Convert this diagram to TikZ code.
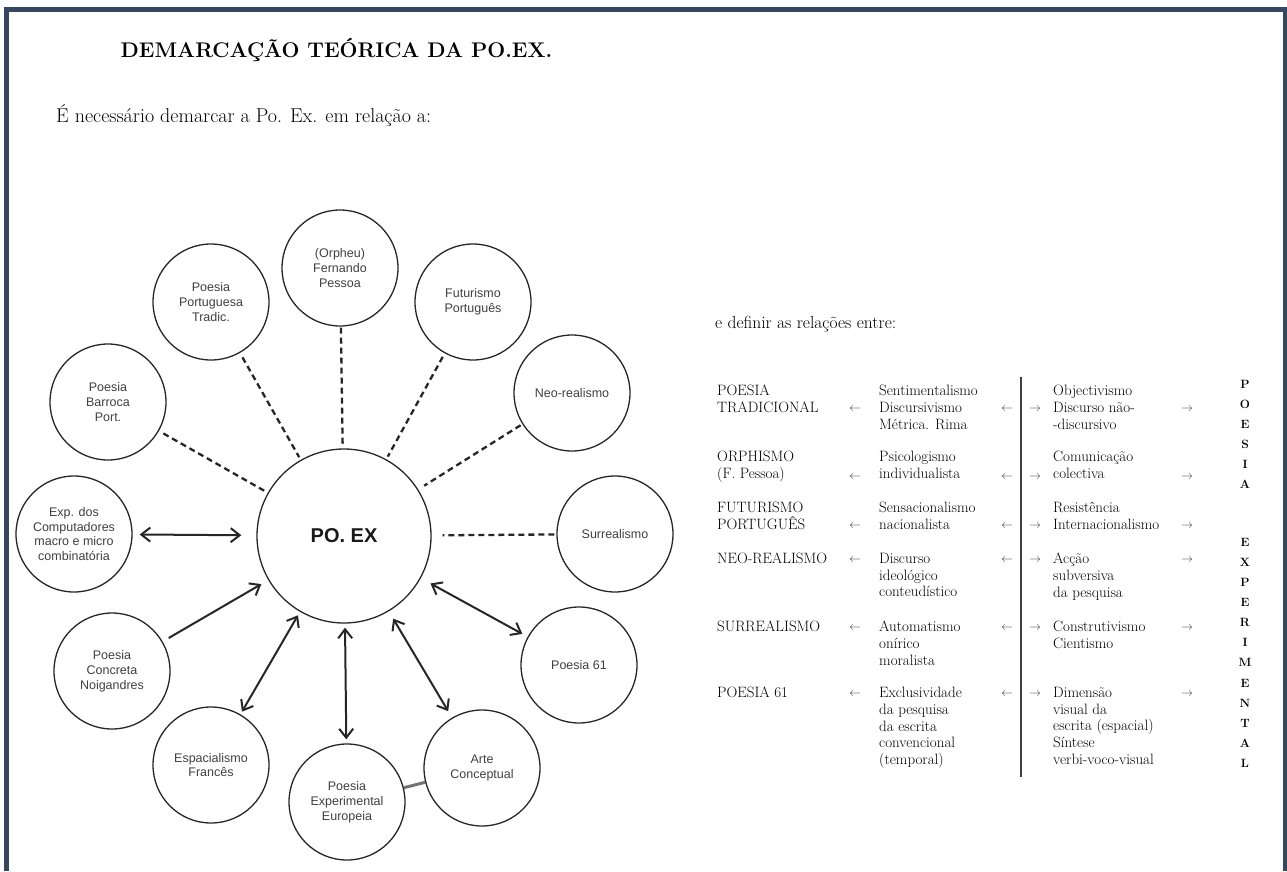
\documentclass[tikz,border=0pt]{standalone}
\usepackage{fontspec}
\newfontfamily\circfont{Liberation Sans}
\usepackage{tikz}
\usetikzlibrary{arrows.meta}
\definecolor{framecol}{RGB}{52,73,97}

\begin{document}
\begin{tikzpicture}[x=1pt, y=-1pt,
		circ/.style={circle, draw=black!85, line width=1.3pt, minimum size=116pt, inner sep=0pt, align=center, text=black!75, font=\circfont\fontsize{12.5}{14.8}\selectfont},
		hub/.style={circ, minimum size=174pt, text=black!90, font=\circfont\bfseries\fontsize{20}{24}\selectfont},
		dashlink/.style={line width=2.3pt, dash pattern=on 6pt off 4pt, black!85},
		twoway/.style={{Straight Barb[length=9pt,width=14pt]}-{Straight Barb[length=9pt,width=14pt]}, line width=2pt, black!85},
		oneway/.style={-{Straight Barb[length=9pt,width=14pt]}, line width=2pt, black!85},
		cell/.style={anchor=north west, inner sep=0pt, align=left, text=black, font=\fontsize{15}{16.7}\selectfont},
		arr/.style={inner sep=0pt, text=black!75, font=\fontsize{11.5}{14}\selectfont},
		vword/.style={anchor=north, inner sep=0pt, align=center, text=black, font=\bfseries\fontsize{12}{20.1}\selectfont}]
		\useasboundingbox (0,0) rectangle (1287,871);
		\fill[framecol] (4,7) rectangle (1287,12);
		\fill[framecol] (4,7) rectangle (9,871);
		\fill[framecol] (1283,7) rectangle (1287,871);
		
		\node[anchor=base west, inner sep=0pt, font=\bfseries\fontsize{21.2}{25}\selectfont] (title) at (120.5,57) {DEMARCAÇÃO TEÓRICA DA PO.EX.};
		\node[anchor=base west, inner sep=0pt, font=\fontsize{20}{24}\selectfont] (intro) at (56,122) {É necessário demarcar a Po. Ex. em relação a:};
		
		\node[hub] (poex) at (344,536) {PO. EX};
		\node[circ] (tradic) at (211,302) {Poesia\\Portuguesa\\Tradic.};
		\node[circ] (pessoa) at (340,268) {(Orpheu)\\Fernando\\Pessoa};
		\node[circ] (futur) at (473,302) {Futurismo\\Português};
		\node[circ] (barroca) at (108,402) {Poesia\\Barroca\\Port.};
		\node[circ] (neo) at (572,393) {Neo-realismo};
		\node[circ] (comput) at (74,534) {Exp. dos\\Computadores\\macro e micro\\combinatória};
		\node[circ] (surreal) at (615,534) {Surrealismo};
		\node[circ] (concreta) at (112,671) {Poesia\\Concreta\\Noigandres};
		\node[circ] (p61) at (579,665) {Poesia 61};
		\node[circ] (espac) at (211,765) {Espacialismo\\Francês};
		\node[circ] (europeia) at (347,802) {Poesia\\Experimental\\Europeia};
		\node[circ] (arte) at (482,768) {Arte\\Conceptual};
		
		\draw[dashlink, shorten <=5pt, shorten >=3pt] (tradic) -- (poex);
		\draw[dashlink, shorten <=1pt, shorten >=2pt] (pessoa) -- (poex);
		\draw[dashlink, shorten <=4pt, shorten >=3pt] (futur) -- (poex);
		\draw[dashlink, shorten <=5pt, shorten >=3pt] (barroca) -- (poex);
		\draw[dashlink, shorten <=2pt, shorten >=7pt] (neo) -- (poex);
		\draw[dashlink, shorten <=2pt, shorten >=11pt] (surreal) -- (poex);
		\draw[twoway, shorten <=7pt, shorten >=15pt] (comput) -- (poex);
		\draw[oneway, shorten <=7pt, shorten >=8pt] (concreta) -- (poex);
		\draw[twoway, shorten <=3pt, shorten >=4pt] (espac) -- (poex);
		\draw[twoway, shorten <=4pt, shorten >=4pt] (europeia) -- (poex);
		\draw[twoway, shorten <=7.5pt, shorten >=8.5pt] (arte) -- (poex);
		\draw[twoway, shorten <=6pt, shorten >=11pt] (p61) -- (poex);
		\draw[line width=3pt, black!55] (europeia) -- (arte);
		
		\node[anchor=base west, inner sep=0pt, font=\fontsize{17.5}{21}\selectfont] (entre) at (715,328) {e definir as relações entre:};
		
		\node[cell] (tradtxt) at (717,385) {POESIA\\TRADICIONAL};
		\node[cell] (orphtxt) at (717,451) {ORPHISMO\\(F. Pessoa)};
		\node[cell] (futtxt) at (717,502) {FUTURISMO\\PORTUGUÊS};
		\node[cell] (neotxt) at (717,553) {NEO-REALISMO};
		\node[cell] (surtxt) at (717,621) {SURREALISMO};
		\node[cell] (p61txt) at (717,687) {POESIA 61};
		
		\node[cell] (sentim) at (879,385) {Sentimentalismo\\Discursivismo\\Métrica. Rima};
		\node[cell] (psicol) at (879,451) {Psicologismo\\individualista};
		\node[cell] (sensac) at (879,502) {Sensacionalismo\\nacionalista};
		\node[cell] (ideol) at (879,553) {Discurso\\ideológico\\conteudístico};
		\node[cell] (automat) at (879,621) {Automatismo\\onírico\\moralista};
		\node[cell] (exclus) at (879,687) {Exclusividade\\da pesquisa\\da escrita\\convencional\\(temporal)};
		
		\node[cell] (objectiv) at (1053,385) {Objectivismo\\Discurso não-\\-discursivo};
		\node[cell] (comunic) at (1053,451) {Comunicação\\colectiva};
		\node[cell] (resist) at (1053,502) {Resistência\\Internacionalismo};
		\node[cell] (accao) at (1053,553) {Acção\\subversiva\\da pesquisa};
		\node[cell] (construt) at (1053,621) {Construtivismo\\Cientismo};
		\node[cell] (dimens) at (1053,687) {Dimensão\\visual da\\escrita (espacial)\\Síntese\\verbi-voco-visual};
		
		\coordinate (sepTop) at (1021,377);
		\coordinate (sepBot) at (1021,777);
		\draw[line width=1.1pt, black!75] (sepTop) -- (sepBot);
		
		\node[arr] (la1) at (855,409) {$\leftarrow$};
		\node[arr] (lb1) at (1007,409) {$\leftarrow$};
		\node[arr] (ra1) at (1035,409) {$\rightarrow$};
		\node[arr] (rb1) at (1187,409) {$\rightarrow$};
		\node[arr] (la2) at (855,477) {$\leftarrow$};
		\node[arr] (lb2) at (1007,477) {$\leftarrow$};
		\node[arr] (ra2) at (1035,477) {$\rightarrow$};
		\node[arr] (rb2) at (1187,477) {$\rightarrow$};
		\node[arr] (la3) at (855,526) {$\leftarrow$};
		\node[arr] (lb3) at (1007,526) {$\leftarrow$};
		\node[arr] (ra3) at (1035,526) {$\rightarrow$};
		\node[arr] (rb3) at (1187,526) {$\rightarrow$};
		\node[arr] (la4) at (855,560) {$\leftarrow$};
		\node[arr] (lb4) at (1007,560) {$\leftarrow$};
		\node[arr] (ra4) at (1035,560) {$\rightarrow$};
		\node[arr] (rb4) at (1187,560) {$\rightarrow$};
		\node[arr] (la5) at (855,628) {$\leftarrow$};
		\node[arr] (lb5) at (1007,628) {$\leftarrow$};
		\node[arr] (ra5) at (1035,628) {$\rightarrow$};
		\node[arr] (rb5) at (1187,628) {$\rightarrow$};
		\node[arr] (la6) at (855,694) {$\leftarrow$};
		\node[arr] (lb6) at (1007,694) {$\leftarrow$};
		\node[arr] (ra6) at (1035,694) {$\rightarrow$};
		\node[arr] (rb6) at (1187,694) {$\rightarrow$};
		
		\node[vword] (poesiaword) at (1245,380) {P\\O\\E\\S\\I\\A};
		\node[vword] (experword) at (1245,538) {E\\X\\P\\E\\R\\I\\M\\E\\N\\T\\A\\L};
	\end{tikzpicture}
\end{document}
